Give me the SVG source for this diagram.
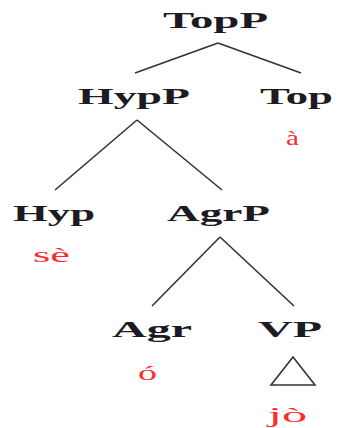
<svg xmlns="http://www.w3.org/2000/svg" width="337" height="428" viewBox="0 0 337 428">
<style>
.lbl{font-family:"Liberation Serif","Times New Roman",serif;font-size:23px;font-weight:bold;fill:#1c1a22}
.lex{font-family:"Liberation Serif","Times New Roman",serif;font-size:21px;fill:#ff2b2b}
.edge{stroke:#333;stroke-width:1.6;fill:none}
</style>
<rect width="337" height="428" fill="#fff"/>
<g id="connectors">
<line class="edge" x1="218" y1="43" x2="135" y2="73"/>
<line class="edge" x1="218" y1="43" x2="301" y2="73"/>
<line class="edge" x1="137" y1="120" x2="55" y2="190"/>
<line class="edge" x1="137" y1="120" x2="222" y2="190"/>
<line class="edge" x1="220" y1="237" x2="152" y2="306"/>
<line class="edge" x1="220" y1="237" x2="294" y2="306"/>
</g>
<g id="TopP"><text class="lbl" x="163" y="28" textLength="105" lengthAdjust="spacingAndGlyphs">TopP</text></g>
<g id="HypP"><text class="lbl" x="78" y="104" textLength="112" lengthAdjust="spacingAndGlyphs">HypP</text></g>
<g id="Top"><text class="lbl" x="260" y="104" textLength="73" lengthAdjust="spacingAndGlyphs">Top</text>
<text class="lex" x="286" y="145" textLength="13" lengthAdjust="spacingAndGlyphs">à</text></g>
<g id="Hyp"><text class="lbl" x="13" y="221" textLength="82" lengthAdjust="spacingAndGlyphs">Hyp</text>
<text class="lex" x="33" y="262" textLength="37" lengthAdjust="spacingAndGlyphs">sè</text></g>
<g id="AgrP"><text class="lbl" x="167" y="221" textLength="103" lengthAdjust="spacingAndGlyphs">AgrP</text></g>
<g id="Agr"><text class="lbl" x="112" y="337" textLength="80" lengthAdjust="spacingAndGlyphs">Agr</text>
<text class="lex" x="138" y="380" textLength="19" lengthAdjust="spacingAndGlyphs">ó</text></g>
<g id="VP"><text class="lbl" x="258" y="337" textLength="64" lengthAdjust="spacingAndGlyphs">VP</text>
<polygon class="edge" points="293,357 271,385 315,385"/>
<text class="lex" x="268" y="422" textLength="39" lengthAdjust="spacingAndGlyphs">jò</text></g>
</svg>
